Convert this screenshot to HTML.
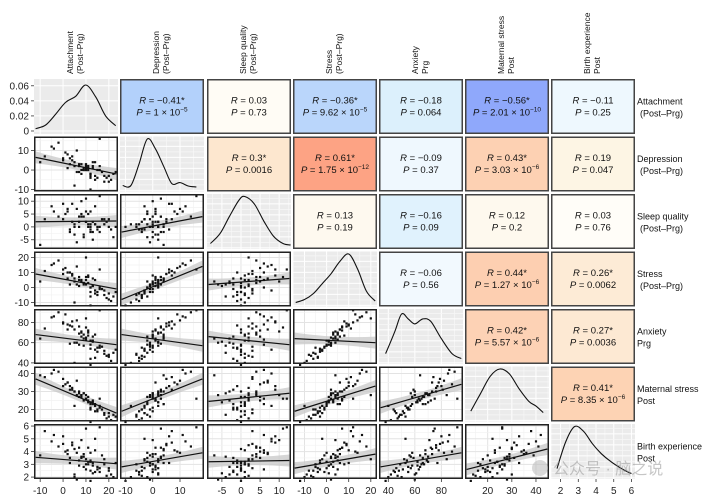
<!DOCTYPE html>
<html><head><meta charset="utf-8">
<style>
html,body{margin:0;padding:0;background:#fff;}
svg{display:block;font-family:"Liberation Sans","Noto Sans CJK SC",sans-serif;}
</style></head>
<body>
<svg id="chart" width="711" height="501" viewBox="0 0 711 501" xmlns="http://www.w3.org/2000/svg"></svg>
<script>
// ---------- data ----------
const varNames = [["Attachment","(Post–Prg)"],["Depression","(Post–Prg)"],["Sleep quality","(Post–Prg)"],["Stress","(Post–Prg)"],["Anxiety","Prg"],["Maternal stress","Post"],["Birth experience","Post"]];
const axisMin = [-12.7,-12,-8.9,-15.2,33,10.6,1.46];
const axisMax = [24,18.8,13.1,22.8,96.3,45.4,6.2];
const rowMin = [-0.004,-11,-8.6,-12.7,38.9,13.3,1.85];
const rowMax = [0.069,17.2,12.8,24,93.3,43.9,6.16];
const xTicks = [[-10,0,10,20],[-10,0,10],[-5,0,5,10],[-10,0,10,20],[40,60,80],[20,30,40],[2,3,4,5,6]];
const yTicks = [[0,0.02,0.04,0.06],[-10,0,10],[-5,0,5,10],[-10,0,10,20],[40,60,80],[20,30,40],[2,3,4,5,6]];
const yTickLabels = [["0","0.02","0.04","0.06"],["-10","0","10"],["-5","0","5","10"],["-10","0","10","20"],["40","60","80"],["20","30","40"],["2","3","4","5","6"]];
// subjects: [attachment, depression, sleep, stress, anxiety, maternal, birth]
const subjects = [
[12,-2,1,0,62,24,3.2],[8,3,4,5,70,28,3.6],[15,-4,-1,-5,55,20,2.8],[2,8,6,10,78,35,4.1],[20,-6,0,-8,48,16,2.5],
[10,0,2,2,65,26,3.0],[-5,12,8,15,85,40,4.8],[5,2,-3,4,60,30,2.2],[18,-3,3,-2,52,18,3.4],[11,1,5,7,72,25,4.3],
[7,-1,0,1,58,27,2.9],[13,4,-2,6,66,23,3.1],[0,6,9,12,80,33,5.2],[14,-5,1,-4,45,19,2.4],[9,0,4,3,68,29,3.8],
[22,-2,-4,-6,50,17,2.0],[4,5,2,9,76,32,4.5],[16,2,0,0,57,22,2.7],[6,10,7,14,82,36,3.9],[12,-3,-1,-3,54,21,3.3],
[-8,7,3,11,74,38,5.6],[10,1,6,5,63,26,2.6],[3,3,-2,2,59,31,3.5],[19,-4,2,-7,47,15,2.1],[8,0,10,4,71,28,4.9],
[13,2,-5,1,61,24,2.3],[1,9,5,13,88,34,4.0],[17,-1,3,-1,56,20,3.7],[11,0,1,8,67,27,3.0],[5,4,0,6,73,30,4.2],
[14,-3,8,-2,53,22,5.0],[9,1,-3,3,64,25,2.8],[-2,14,4,18,90,41,4.4],[21,-5,-1,-9,42,14,2.2],[7,2,2,5,69,29,3.3],
[12,-2,6,0,58,23,3.9],[3,6,-1,10,77,33,3.1],[15,0,0,-3,51,19,2.6],[10,3,11,7,75,26,5.8],[6,-1,-6,2,60,28,1.8],
[18,-6,1,-5,49,17,3.0],[0,5,3,9,79,37,4.6],[13,1,2,1,62,25,2.9],[8,-2,5,4,66,27,3.5],[16,0,-2,-1,55,21,2.4],
[-4,11,6,16,86,42,5.3],[11,2,0,3,70,24,3.2],[4,7,9,8,81,31,4.7],[20,-3,3,-4,46,18,2.7],[9,0,-4,2,57,29,3.6],
[14,4,1,5,68,23,4.1],[2,1,7,6,73,35,3.8],[12,-4,-2,-6,44,20,2.5],[7,3,4,7,76,30,4.3],[23,-1,0,-3,53,16,3.1],
[10,2,2,20,84,28,3.4],[5,-8,1,-10,40,22,2.0],[16,16,12,12,92,26,5.9],[-10,4,-7,4,64,39,3.7],[12,-10,0,-12,38,13,1.7]
];
const fitStart = {"1-0":6.5,"2-0":2,"3-0":9,"4-0":68,"5-0":37,"6-0":3.55,"2-1":-2,"3-1":-8,"4-1":68,"5-1":19,"6-1":2.8,"3-2":2,"4-2":66,"5-2":24.5,"6-2":3.2,"4-3":64,"5-3":19,"6-3":2.7,"5-4":21,"6-4":2.8,"6-5":2.6};
const fitEnd = {"1-0":-2,"2-0":2.3,"3-0":-1,"4-0":58,"5-0":18,"6-0":3.05,"2-1":4,"3-1":14,"4-1":57,"5-1":37,"6-1":3.9,"3-2":6,"4-2":58,"5-2":29,"6-2":3.3,"4-3":60,"5-3":33,"6-3":3.8,"5-4":34,"6-4":3.9,"6-5":4.2};
const corrR = {"0-1":"−0.41*","0-2":"0.03","0-3":"−0.36*","0-4":"−0.18","0-5":"−0.56*","0-6":"−0.11","1-2":"0.3*","1-3":"0.61*","1-4":"−0.09","1-5":"0.43*","1-6":"0.19","2-3":"0.13","2-4":"−0.16","2-5":"0.12","2-6":"0.03","3-4":"−0.06","3-5":"0.44*","3-6":"0.26*","4-5":"0.42*","4-6":"0.27*","5-6":"0.41*"};
const corrP = {"0-1":["1","−5"],"0-2":["0.73"],"0-3":["9.62","−5"],"0-4":["0.064"],"0-5":["2.01","−10"],"0-6":["0.25"],"1-2":["0.0016"],"1-3":["1.75","−12"],"1-4":["0.37"],"1-5":["3.03","−6"],"1-6":["0.047"],"2-3":["0.19"],"2-4":["0.09"],"2-5":["0.2"],"2-6":["0.76"],"3-4":["0.56"],"3-5":["1.27","−6"],"3-6":["0.0062"],"4-5":["5.57","−6"],"4-6":["0.0036"],"5-6":["8.35","−6"]};
const corrFill = {"0-1":"#b3d1fb","0-2":"#fffcf5","0-3":"#bad6fb","0-4":"#dcf0fc","0-5":"#8fa8fb","0-6":"#eef8fe","1-2":"#fde7cf","1-3":"#fda384","1-4":"#eff8fe","1-5":"#fdd1b3","1-6":"#fdf5e4","2-3":"#fef9ef","2-4":"#e0f2fd","2-5":"#fef9ee","2-6":"#fffdf8","3-4":"#f2f9fe","3-5":"#fdcfb1","3-6":"#fdebd6","4-5":"#fdd2b5","4-6":"#fde9d3","5-6":"#fdd3b4"};
const densX = [[-12,-7.6,-3.3,1.1,5.5,9.9,14.3,18.6,23],[-11,-8,-5,-2,1,4,7,10,13,16],[-8,-5.5,-3,-0.5,1,3.5,6,8.5,11,13],[-14,-10,-6,-2,2,6,10,14,18,22],[38,45,50,55,60,66,72,80,88,95],[13,17,21,25,29,33,37,40,43],[1.8,2.3,2.8,3.3,3.8,4.3,4.8,5.3,5.8,6]];
const densY = [[0.003,0.008,0.022,0.038,0.046,0.061,0.045,0.02,0.007],[0.06,0.06,0.5,1.0,0.8,0.45,0.1,0.12,0.05,0.03],[0.05,0.25,0.6,0.93,1.0,0.85,0.5,0.2,0.05,0.02],[0.02,0.08,0.2,0.4,0.6,0.85,1.0,0.7,0.25,0.05],[0.15,0.6,0.95,0.85,0.75,0.85,0.8,0.45,0.15,0.05],[0.15,0.5,0.85,1.0,0.9,0.6,0.35,0.25,0.12],[0.15,0.7,1.0,0.9,0.65,0.45,0.3,0.18,0.08,0.05]];

// ---------- layout ----------
const colX0=[34,120,207,293,379,465,551], PW=84;
const rowY0=[79,136.5,194,251.5,309,366.5,424], PH=55;
const NS="http://www.w3.org/2000/svg";
const svg=document.getElementById('chart');
function mk(tag,attrs,parent){const e=document.createElementNS(NS,tag);for(const k in attrs)e.setAttribute(k,attrs[k]);(parent||svg).appendChild(e);return e;}
function sx(c,v){return colX0[c]+(v-axisMin[c])/(axisMax[c]-axisMin[c])*PW;}
function sy(r,v){return rowY0[r]+PH-(v-rowMin[r])/(rowMax[r]-rowMin[r])*PH;}
function smoothPath(pts){
  let d='M'+pts[0][0].toFixed(1)+' '+pts[0][1].toFixed(1);
  for(let i=0;i<pts.length-1;i++){
    const p0=pts[Math.max(0,i-1)],p1=pts[i],p2=pts[i+1],p3=pts[Math.min(pts.length-1,i+2)];
    const c1x=p1[0]+(p2[0]-p0[0])/6,c1y=p1[1]+(p2[1]-p0[1])/6;
    const c2x=p2[0]-(p3[0]-p1[0])/6,c2y=p2[1]-(p3[1]-p1[1])/6;
    d+=` C${c1x.toFixed(1)} ${c1y.toFixed(1)} ${c2x.toFixed(1)} ${c2y.toFixed(1)} ${p2[0].toFixed(1)} ${p2[1].toFixed(1)}`;
  }
  return d;
}

function grid(g,r,c,diag){
  const major=diag?"#ffffff":"#e3e3e3", minor=diag?"#f7f7f7":"#f2f2f2";
  const xt=xTicks[c];
  const allx=[];
  for(let i=0;i<xt.length;i++){allx.push([xt[i],1]); if(i<xt.length-1)allx.push([(xt[i]+xt[i+1])/2,0]);}
  allx.push([xt[0]-(xt[1]-xt[0])/2,0]); allx.push([xt[xt.length-1]+(xt[1]-xt[0])/2,0]);
  allx.forEach(([v,m])=>{const x=sx(c,v); if(x>colX0[c]&&x<colX0[c]+PW) mk('line',{x1:x,x2:x,y1:rowY0[r],y2:rowY0[r]+PH,stroke:m?major:minor,'stroke-width':m?1:0.7},g);});
  let yt = yTicks[r];
  if(diag){ const n=5; yt=[]; for(let i=0;i<=n;i++) yt.push(rowMin[r]+(rowMax[r]-rowMin[r])*(i+0.1)/n); }
  const ally=[];
  for(let i=0;i<yt.length;i++){ally.push([yt[i],1]); if(i<yt.length-1)ally.push([(yt[i]+yt[i+1])/2,0]);}
  ally.push([yt[0]-(yt[1]-yt[0])/2,0]); ally.push([yt[yt.length-1]+(yt[1]-yt[0])/2,0]);
  ally.forEach(([v,m])=>{const y=sy(r,v); if(y>rowY0[r]&&y<rowY0[r]+PH) mk('line',{x1:colX0[c],x2:colX0[c]+PW,y1:y,y2:y,stroke:m?major:minor,'stroke-width':m?1:0.7},g);});
}

for(let r=0;r<7;r++){
  for(let c=0;c<7;c++){
    const g=mk('g',{});
    const key=r+'-'+c;
    if(r===c){
      
      
      mk('rect',{x:colX0[c],y:rowY0[r],width:PW,height:PH,fill:'#ebebeb'},g);
      if(r===0){
        xTicks[c].forEach(v=>{const x=sx(c,v);mk('line',{x1:x,x2:x,y1:rowY0[r],y2:rowY0[r]+PH,stroke:'#fff','stroke-width':1},g);});
        yTicks[r].forEach(v=>{const y=sy(r,v);mk('line',{x1:colX0[c],x2:colX0[c]+PW,y1:y,y2:y,stroke:'#fff','stroke-width':1},g);});
      } else grid(g,r,c,true);
      const xs=densX[r], ys=densY[r];
      const pts=xs.map((xv,i)=>[sx(c,xv), r===0 ? sy(0,ys[i]) : rowY0[r]+PH-3-ys[i]*(PH*0.9)]);
      const p=mk('path',{d:smoothPath(pts),fill:'none',stroke:'#111','stroke-width':1.1,'stroke-linejoin':'round'},g);
      
      
    } else if(r>c){
      
      
      mk('rect',{x:colX0[c],y:rowY0[r],width:PW,height:PH,fill:'#fff'},g);
      grid(g,r,c,false);
      const x0=sx(c,axisMin[c]+ (axisMax[c]-axisMin[c])*0.02), x1=sx(c,axisMax[c]-(axisMax[c]-axisMin[c])*0.02);
      const y0=sy(r,fitStart[key]), y1=sy(r,fitEnd[key]);
      const xm=(x0+x1)/2, ym=(y0+y1)/2;
      const band=mk('path',{d:`M${x0} ${y0-6} Q${xm} ${ym-2} ${x1} ${y1-6} L${x1} ${y1+6} Q${xm} ${ym+2} ${x0} ${y0+6} Z`,fill:'#c8c8c8','fill-opacity':0.75},g);
      
      
      subjects.forEach(s=>{
        const px=sx(c,s[c]), py=sy(r,s[r]);
        const pt=mk('rect',{x:(px-1.1).toFixed(1),y:(py-1.1).toFixed(1),width:2.2,height:2.2,fill:'#111'},g);
        
        
      });
      const ln=mk('line',{x1:x0,y1:y0,x2:x1,y2:y1,stroke:'#111','stroke-width':1.2},g);
      
      
      mk('rect',{x:colX0[c]+0.75,y:rowY0[r]+0.75,width:PW-1.5,height:PH-1.5,fill:'none',stroke:'#222','stroke-width':1.5},g);
    } else {
      const k=r+'-'+c;
      
      
      mk('rect',{x:colX0[c]+0.75,y:rowY0[r]+0.75,width:PW-1.5,height:PH-1.5,fill:corrFill[k],stroke:'#444','stroke-width':1.5},g);
      const cx=colX0[c]+PW/2, cy=rowY0[r]+PH/2;
      const t1=mk('text',{x:cx,y:cy-3,'text-anchor':'middle','font-size':9.5,fill:'#111'},g);
      t1.innerHTML='<tspan font-style="italic">R</tspan> = '+corrR[k];
      const p=corrP[k];
      const t2=mk('text',{x:cx,y:cy+9,'text-anchor':'middle','font-size':9.5,fill:'#111'},g);
      if(p.length===1) t2.innerHTML='<tspan font-style="italic">P</tspan> = '+p[0];
      else t2.innerHTML='<tspan font-style="italic">P</tspan> = '+p[0]+' × 10<tspan font-size="6.5" dy="-4">'+p[1]+'</tspan>';
    }
  }
}
for(let c=0;c<7;c++){
  const cx=colX0[c]+PW/2;
  const t=mk('text',{transform:`translate(${cx-3},74) rotate(-90)`,'font-size':8.5,fill:'#111','text-anchor':'start'});
  
  
  t.innerHTML=`<tspan x="0" y="0">${varNames[c][0]}</tspan><tspan x="0" y="10">${varNames[c][1]}</tspan>`;
}
for(let r=0;r<7;r++){
  const cy=rowY0[r]+PH/2;
  const t=mk('text',{'font-size':9,fill:'#111'});
  
  
  const ind = varNames[r][1].startsWith('(')?3:0;
  t.innerHTML=`<tspan x="637" y="${cy-2}">${varNames[r][0]}</tspan><tspan x="${637+ind}" y="${cy+10}">${varNames[r][1]}</tspan>`;
}
for(let r=0;r<7;r++){
  yTicks[r].forEach((v,i)=>{
    const y=sy(r,v);
    mk('line',{x1:31,x2:34,y1:y,y2:y,stroke:'#333','stroke-width':0.8});
    const t=mk('text',{x:29,y:y+3.5,'text-anchor':'end','font-size':10,fill:'#222'});
    
    
    t.textContent=yTickLabels[r][i];
  });
}
for(let c=0;c<7;c++){
  xTicks[c].forEach(v=>{
    const x=sx(c,v);
    mk('line',{x1:x,x2:x,y1:479,y2:482,stroke:'#333','stroke-width':0.8});
    const t=mk('text',{x:x,y:494,'text-anchor':'middle','font-size':10,fill:'#222'});
    
    
    t.textContent=String(v);
  });
}
const wm=mk('g',{opacity:0.55});


mk('circle',{cx:540,cy:468,r:8,fill:'#bbb'},wm);
mk('text',{x:553,y:474,'font-size':16,fill:'#999'},wm).textContent='公众号 · 脑之说';
</script>
</body></html>
